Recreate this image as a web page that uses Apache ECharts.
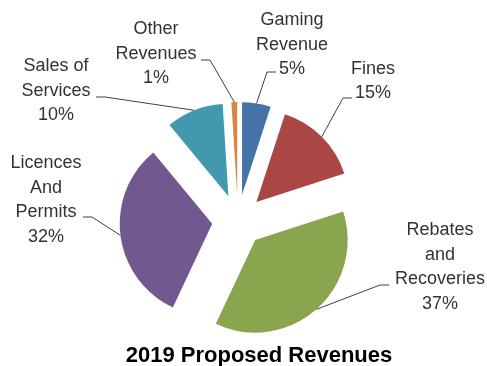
<!DOCTYPE html>
<html>
<head>
<meta charset="utf-8">
<script src="https://cdn.jsdelivr.net/npm/echarts@6/dist/echarts.min.js"></script>
<style>
  html, body { margin: 0; padding: 0; background: #ffffff; }
  #chart { width: 487px; height: 366px; }
</style>
</head>
<body>
<div id="chart"></div>
<script>
// Revenue categories (clockwise from 12 o'clock) and their shares in percent
const categories = [
  'Gaming\nRevenue',
  'Fines',
  'Rebates\nand\nRecoveries',
  'Licences\nAnd\nPermits',
  'Sales of\nServices',
  'Other\nRevenues'
];
const shares = [5, 15, 37, 32, 10, 1];
const sliceColors = ['#4572A7', '#AA4643', '#89A54E', '#71588F', '#4198AF', '#DB843D'];

// Pie geometry
const PIE_CX = 238, PIE_CY = 220.5, PIE_R = 92.5, EXPLODE = 26;

// Label block centres, and the point where each leader line meets its label
const labelSpots = [
  [292, 45], [373, 81], [440, 267], [46, 200], [56, 91], [156, 54]
];
const leaderEnds = [
  [[276, 72], 'left'], [[352, 98], 'left'], [[389, 285], 'left'],
  [[83, 217], 'right'], [[96, 97], 'right'], [[201, 60], 'right']
];
const STUB = 9;

const FONT = '18px "Liberation Sans"';
const TEXT_COLOR = '#333333';
const LINE_COLOR = '#404040';

// Leader lines start on the outer arc of each exploded slice, at its mid angle
const total = shares.reduce((a, b) => a + b, 0);
let acc = 0;
const graphics = [];
shares.forEach((v, i) => {
  const mid = (acc + v / 2) / total * Math.PI * 2;
  acc += v;
  const dist = EXPLODE + PIE_R;
  const arcPt = [PIE_CX + dist * Math.sin(mid), PIE_CY - dist * Math.cos(mid)];
  const end = leaderEnds[i][0];
  const elbow = [end[0] + (leaderEnds[i][1] === 'left' ? -STUB : STUB), end[1]];
  graphics.push({
    type: 'polyline',
    silent: true,
    shape: { points: [arcPt, elbow, end] },
    style: { stroke: LINE_COLOR, lineWidth: 1, fill: null }
  });
  graphics.push({
    type: 'text',
    silent: true,
    style: {
      text: categories[i] + '\n' + v + '%',
      x: labelSpots[i][0],
      y: labelSpots[i][1],
      align: 'center',
      verticalAlign: 'middle',
      font: FONT,
      lineHeight: 24.5,
      fill: TEXT_COLOR
    }
  });
});

const chart = echarts.init(document.getElementById('chart'), null, { renderer: 'canvas' });

chart.setOption({
  animation: false,
  backgroundColor: '#ffffff',
  title: {
    text: '2019 Proposed Revenues',
    left: 254,
    textAlign: 'center',
    top: 340,
    textStyle: {
      fontFamily: 'Liberation Sans',
      fontWeight: 'bold',
      fontSize: 22,
      color: '#000000'
    }
  },
  graphic: graphics,
  series: [{
    type: 'pie',
    center: [PIE_CX, PIE_CY],
    radius: [0, PIE_R],
    startAngle: 90,
    clockwise: true,
    selectedMode: 'multiple',
    selectedOffset: EXPLODE,
    emphasis: { disabled: true },
    itemStyle: { borderWidth: 0 },
    label: { show: false },
    labelLine: { show: false },
    data: categories.map((name, i) => ({
      name: name,
      value: shares[i],
      selected: true,
      itemStyle: { color: sliceColors[i] }
    }))
  }]
});
</script>
</body>
</html>
